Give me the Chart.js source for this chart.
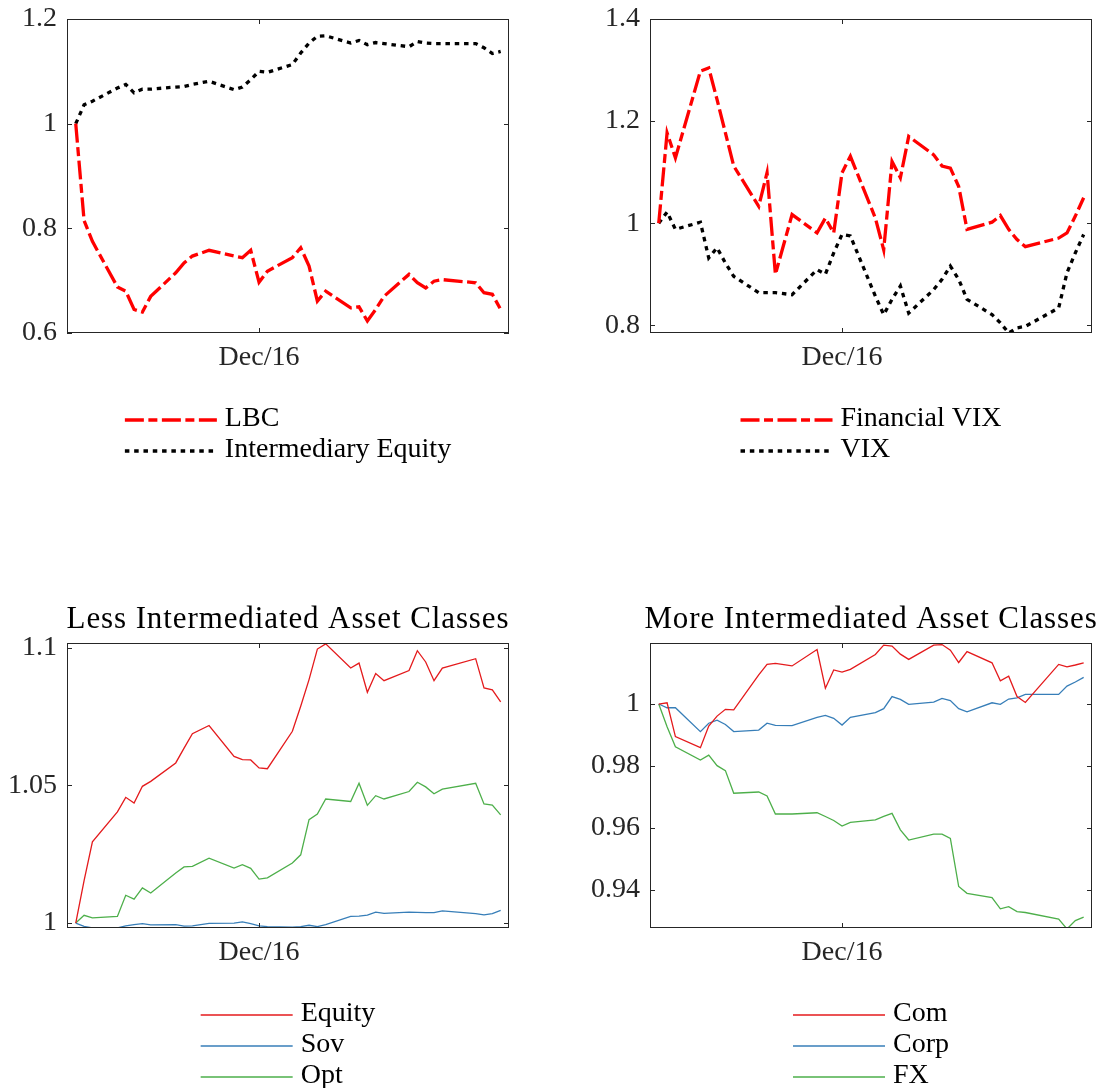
<!DOCTYPE html>
<html lang="en">
<head>
  <meta charset="UTF-8" />
  <title>Election event study</title>
  <script src="https://cdn.jsdelivr.net/npm/chart.js"></script>
  <style>
    body {
      margin: 0;
      background: #fff;
    }
    .wrap {
      position: relative;
      width: 1102px;
      height: 1088px;
      overflow: hidden;
    }
    canvas {
      position: absolute;
    }
  </style>
</head>
<body>
  <div class="wrap">
    <canvas id="c1" width="551" height="564" style="left:0;top:-20px"></canvas>
    <canvas id="c2" width="551" height="564" style="left:551px;top:-20px"></canvas>
    <canvas id="c3" width="551" height="544" style="left:0;top:544px"></canvas>
    <canvas id="c4" width="551" height="544" style="left:551px;top:544px"></canvas>
  </div>

  <script>
    // trading days, Nov 9 2016 .. Dec 30 2016
    const dates = ['2016-11-09','2016-11-10','2016-11-11','2016-11-14','2016-11-15','2016-11-16','2016-11-17','2016-11-18',
      '2016-11-21','2016-11-22','2016-11-23','2016-11-25','2016-11-28','2016-11-29','2016-11-30','2016-12-01','2016-12-02',
      '2016-12-05','2016-12-06','2016-12-07','2016-12-08','2016-12-09','2016-12-12','2016-12-13','2016-12-14','2016-12-15',
      '2016-12-16','2016-12-19','2016-12-20','2016-12-21','2016-12-22','2016-12-23','2016-12-27','2016-12-28','2016-12-29','2016-12-30'];
    const xTickDate = '2016-12-01';
    const xTickLabel = 'Dec/16';

    const lbc = [1.0, 0.815, 0.775, 0.688, 0.680, 0.645, 0.640, 0.670, 0.715, 0.734, 0.747, 0.758, 0.747, 0.744, 0.758, 0.697, 0.718, 0.744,
      0.763, 0.728, 0.661, 0.680, 0.648, 0.650, 0.623, 0.645, 0.670, 0.712, 0.696, 0.686, 0.699, 0.702, 0.696, 0.677, 0.674, 0.645];
    const intermediaryEquity = [1.0, 1.036, 1.043, 1.068, 1.075, 1.059, 1.066, 1.066, 1.070, 1.071, 1.075, 1.081, 1.065, 1.070, 1.084, 1.100, 1.098, 1.113,
      1.135, 1.154, 1.167, 1.168, 1.154, 1.159, 1.151, 1.155, 1.153, 1.147, 1.157, 1.154, 1.153, 1.153, 1.153, 1.145, 1.134, 1.138];

    const financialVix = [1.0, 1.177, 1.128, 1.298, 1.304, 1.242, 1.177, 1.112, 1.033, 1.099, 0.900, 1.017, 0.981, 1.010, 0.981, 1.099, 1.131, 1.010,
      0.948, 1.121, 1.089, 1.170, 1.134, 1.112, 1.108, 1.072, 0.988, 1.002, 1.015, 0.988, 0.968, 0.954, 0.971, 0.981, 1.014, 1.050];
    const vix = [1.0, 1.022, 0.988, 1.002, 0.932, 0.952, 0.922, 0.896, 0.864, 0.864, 0.864, 0.860, 0.909, 0.900, 0.942, 0.978, 0.975, 0.857,
      0.821, 0.851, 0.877, 0.824, 0.870, 0.890, 0.916, 0.890, 0.851, 0.821, 0.805, 0.785, 0.795, 0.798, 0.834, 0.903, 0.942, 0.978];

    const equity = [1.0, 1.0154, 1.0295, 1.0404, 1.0457, 1.0436, 1.0497, 1.0515, 1.0582, 1.0636, 1.0688, 1.0718, 1.0606, 1.0594, 1.0593, 1.0564, 1.0561, 1.0697,
      1.0788, 1.0885, 1.0996, 1.1015, 1.0927, 1.0945, 1.0839, 1.0907, 1.0881, 1.0918, 1.0990, 1.0949, 1.0881, 1.0927, 1.0961, 1.0855, 1.0848, 1.0804];
    const sov = [1.0, 0.9988, 0.9982, 0.9982, 0.9990, 0.9994, 0.9998, 0.9993, 0.9994, 0.9989, 0.9990, 0.9999, 1.0, 1.0004, 0.9998, 0.9990, 0.9987, 0.9985,
      0.9987, 0.9992, 0.9987, 0.9994, 1.0024, 1.0025, 1.0029, 1.0040, 1.0035, 1.0040, 1.0039, 1.0038, 1.0038, 1.0044, 1.0034, 1.0030, 1.0034, 1.0046];
    const opt = [1.0, 1.0028, 1.0019, 1.0024, 1.0101, 1.0087, 1.0128, 1.0109, 1.0182, 1.0204, 1.0206, 1.0236, 1.0200, 1.0212, 1.0199, 1.0160, 1.0164, 1.0218,
      1.0248, 1.0376, 1.0396, 1.0451, 1.0442, 1.0508, 1.0428, 1.0463, 1.0451, 1.0478, 1.0512, 1.0495, 1.0470, 1.0487, 1.0508, 1.0433, 1.0429, 1.0393];

    const com = [1.0, 1.0004, 0.9895, 0.9859, 0.9929, 0.9961, 0.9983, 0.9981, 1.0094, 1.0128, 1.0131, 1.0123, 1.0176, 1.0051, 1.0110, 1.0103, 1.0112, 1.0160,
      1.0190, 1.0187, 1.0161, 1.0144, 1.0190, 1.0192, 1.0174, 1.0134, 1.0169, 1.0133, 1.0075, 1.0090, 1.0024, 1.0005, 1.0128, 1.0120, 1.0126, 1.0133];
    const corp = [1.0, 0.9988, 0.9988, 0.9911, 0.9938, 0.9948, 0.9934, 0.9911, 0.9916, 0.9938, 0.9931, 0.9930, 0.9957, 0.9963, 0.9954, 0.9932, 0.9957, 0.9972,
      0.9985, 1.0024, 1.0015, 0.9999, 1.0006, 1.0018, 1.0011, 0.9985, 0.9975, 1.0004, 0.9999, 1.0016, 1.0020, 1.0031, 1.0031, 1.0058, 1.0071, 1.0086];
    const fx = [1.0, 0.9927, 0.9862, 0.9819, 0.9835, 0.9801, 0.9785, 0.9712, 0.9716, 0.9703, 0.9645, 0.9645, 0.9649, 0.9637, 0.9624, 0.9606, 0.9618, 0.9626,
      0.9637, 0.9647, 0.9594, 0.9561, 0.9580, 0.9580, 0.9566, 0.9411, 0.9389, 0.9375, 0.9339, 0.9346, 0.9330, 0.9327, 0.9306, 0.9274, 0.9301, 0.9312];

    const yTicks1 = [0.6, 0.8, 1, 1.2];
    const yTicks2 = [0.8, 1, 1.2, 1.4];
    const yTicks3 = [1, 1.05, 1.1];
    const yTicks4 = [0.94, 0.96, 0.98, 1];

    const FONT = '"Liberation Serif", "DejaVu Serif", serif';
    const FSIZE = 28;
    const AXC = '#262626';

    // days since the first date, used as the x value
    const t0 = Date.parse(dates[0]);
    const dayNum = d => Math.round((Date.parse(d) - t0) / 86400000);
    const xs = dates.map(dayNum);
    const xTick = dayNum(xTickDate);

    const pts = vals => vals.map((v, i) => ({ x: xs[i], y: v }));

    // box, inward ticks on all four sides, title and legend below the axes
    const matlabAxes = {
      id: 'matlabAxes',
      afterDatasetsDraw(chart, args, opts) {
        const { ctx, chartArea: a, scales: { x, y } } = chart;
        ctx.save();
        ctx.strokeStyle = AXC;
        ctx.lineWidth = 1;
        ctx.setLineDash([]);
        ctx.strokeRect(a.left + 0.5, a.top + 0.5, a.right - a.left - 1, a.bottom - a.top - 1);
        const len = 5;
        ctx.beginPath();
        x.ticks.forEach(t => {
          const px = Math.round(x.getPixelForValue(t.value)) + 0.5;
          ctx.moveTo(px, a.bottom); ctx.lineTo(px, a.bottom - len);
          ctx.moveTo(px, a.top); ctx.lineTo(px, a.top + len);
        });
        y.ticks.forEach(t => {
          const py = Math.round(y.getPixelForValue(t.value)) + 0.5;
          ctx.moveTo(a.left, py); ctx.lineTo(a.left + len, py);
          ctx.moveTo(a.right, py); ctx.lineTo(a.right - len, py);
        });
        ctx.stroke();

        ctx.fillStyle = '#000';
        if (opts.title) {
          ctx.font = '31px ' + FONT;
          ctx.letterSpacing = '0.9px';
          ctx.textAlign = 'center';
          ctx.textBaseline = 'alphabetic';
          ctx.fillText(opts.title, (a.left + a.right) / 2, a.top - 15);
          ctx.letterSpacing = '0px';
        }

        // legend
        ctx.font = FSIZE + 'px ' + FONT;
        const dsets = chart.data.datasets;
        const lineLen = 92;
        const maxW = Math.max(...dsets.map(d => ctx.measureText(d.label).width));
        const x0 = (a.left + a.right) / 2 - (lineLen + 8 + maxW) / 2;
        dsets.forEach((d, i) => {
          const ly = a.bottom + 87 + i * 31;
          ctx.beginPath();
          ctx.strokeStyle = d.borderColor;
          ctx.lineWidth = d.borderWidth;
          ctx.setLineDash(d.borderDash || []);
          ctx.moveTo(x0, ly);
          ctx.lineTo(x0 + lineLen, ly);
          ctx.stroke();
          ctx.setLineDash([]);
          ctx.textAlign = 'left';
          ctx.textBaseline = 'middle';
          ctx.fillText(d.label, x0 + lineLen + 8, ly - 1);
        });
        ctx.restore();
      }
    };

    function makeChart(id, datasets, yMin, yMax, yTicks, area, title) {
      const cv = document.getElementById(id);
      const W = cv.width, H = cv.height;
      return new Chart(cv, {
        type: 'line',
        data: { datasets },
        options: {
          responsive: false,
          animation: false,
          devicePixelRatio: 1,
          layout: { padding: { top: area.top, right: W - area.right, left: 0, bottom: 0 } },
          elements: { point: { radius: 0 }, line: { tension: 0 } },
          plugins: {
            legend: { display: false },
            tooltip: { enabled: false },
            matlabAxes: { title }
          },
          scales: {
            x: {
              type: 'linear',
              min: -1.05,
              max: 52,
              afterBuildTicks: s => { s.ticks = [{ value: xTick }]; },
              afterFit: s => { s.height = H - area.bottom; },
              grid: { display: false, drawTicks: false },
              border: { display: false },
              ticks: {
                callback: () => xTickLabel,
                color: AXC,
                padding: 8,
                maxRotation: 0,
                font: { family: FONT, size: FSIZE }
              }
            },
            y: {
              min: yMin,
              max: yMax,
              afterBuildTicks: s => { s.ticks = yTicks.map(v => ({ value: v })); },
              afterFit: s => { s.width = area.left; },
              grid: { display: false, drawTicks: false },
              border: { display: false },
              ticks: {
                callback: v => String(v),
                color: AXC,
                padding: 10,
                font: { family: FONT, size: FSIZE }
              }
            }
          }
        },
        plugins: [matlabAxes]
      });
    }

    const thick = 3.3;
    const dashDot = [19, 4.5, 9, 4.5];
    const dotted = [4.5, 4.8];

    // top canvases sit 20px above the page so the plot top lands at y=19
    makeChart('c1', [
      { label: 'LBC', data: pts(lbc), borderColor: '#ff0000', borderWidth: thick, borderDash: dashDot },
      { label: 'Intermediary Equity', data: pts(intermediaryEquity), borderColor: '#000000', borderWidth: thick, borderDash: dotted }
    ], 0.6, 1.2, yTicks1, { left: 67, top: 39, right: 509, bottom: 353 });

    makeChart('c2', [
      { label: 'Financial VIX', data: pts(financialVix), borderColor: '#ff0000', borderWidth: thick, borderDash: dashDot },
      { label: 'VIX', data: pts(vix), borderColor: '#000000', borderWidth: thick, borderDash: dotted }
    ], 0.785, 1.4, yTicks2, { left: 99, top: 39, right: 541, bottom: 353 });

    makeChart('c3', [
      { label: 'Equity', data: pts(equity), borderColor: '#e41a1c', borderWidth: 1.3 },
      { label: 'Sov', data: pts(sov), borderColor: '#377eb8', borderWidth: 1.3 },
      { label: 'Opt', data: pts(opt), borderColor: '#4daf4a', borderWidth: 1.3 }
    ], 0.9982, 1.1018, yTicks3, { left: 67, top: 99, right: 509, bottom: 384 }, 'Less Intermediated Asset Classes');

    makeChart('c4', [
      { label: 'Com', data: pts(com), borderColor: '#e41a1c', borderWidth: 1.3 },
      { label: 'Corp', data: pts(corp), borderColor: '#377eb8', borderWidth: 1.3 },
      { label: 'FX', data: pts(fx), borderColor: '#4daf4a', borderWidth: 1.3 }
    ], 0.9277, 1.0197, yTicks4, { left: 99, top: 99, right: 541, bottom: 384 }, 'More Intermediated Asset Classes');
  </script>
</body>
</html>
